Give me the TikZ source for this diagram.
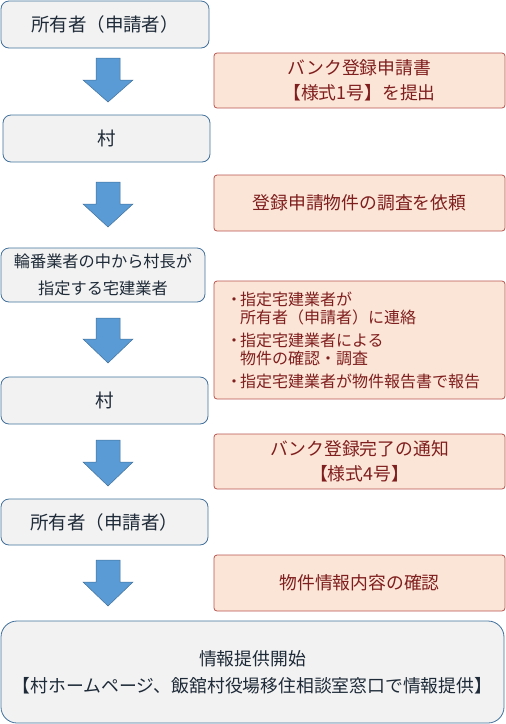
\documentclass[tikz,border=0pt]{standalone}
\usepackage{fontspec}
\setmainfont{Noto Sans CJK JP}
\definecolor{lgray}{HTML}{F2F2F2}
\definecolor{lblue}{HTML}{41719C}
\definecolor{ltext}{HTML}{1E2A38}
\definecolor{rfill}{HTML}{FBE5D6}
\definecolor{rline}{HTML}{B85450}
\definecolor{rtext}{HTML}{7F1E1E}
\definecolor{afill}{HTML}{5B9BD5}
\newcommand\bul{\makebox[12pt][c]{・}}
\newcommand\blockarrow[3]{\draw[barrow] (96,#1) -- (120,#1) -- (120,#2) -- (133,#2) -- (108,#3) -- (83,#2) -- (96,#2) -- cycle;}
\begin{document}
\begin{tikzpicture}[x=1pt,y=-1pt,
  leftbox/.style={draw=lblue, fill=lgray, rounded corners=8pt, line width=0.8pt, text=ltext, align=center, inner sep=0pt, font=\fontsize{18.5}{27}\selectfont},
  rightbox/.style={draw=rline, fill=rfill, rounded corners=3pt, line width=0.8pt, text=rtext, align=center, inner sep=0pt, minimum width=291pt, font=\fontsize{17.8}{25}\selectfont},
  barrow/.style={fill=afill, draw=lblue, line width=0.5pt}]
\useasboundingbox (0,0) rectangle (506,724);
% left column
\node[leftbox, minimum width=208pt, minimum height=47pt] (own1) at (105,24.5) {所有者（申請者）};
\node[leftbox, minimum width=207pt, minimum height=47pt] (v1) at (106.5,138.5) {村};
\node[leftbox, minimum width=204pt, minimum height=54pt, font=\fontsize{16.2}{27}\selectfont] (agent) at (103,275) {輪番業者の中から村長が\\指定する宅建業者};
\node[leftbox, minimum width=207pt, minimum height=47pt] (v2) at (104.5,400.5) {村};
\node[leftbox, minimum width=207pt, minimum height=46pt] (own2) at (104.5,522) {所有者（申請者）};
\node[leftbox, minimum width=503pt, minimum height=102pt, rounded corners=16pt, font=\fontsize{17.8}{27}\selectfont] (final) at (252.5,672) {情報提供開始\\【村ホームページ、飯舘村役場移住相談室窓口で情報提供】};
% right column
\node[rightbox, minimum height=55pt] (r1) at (359.5,80.5) {バンク登録申請書\\【様式1号】を提出};
\node[rightbox, minimum height=56pt] (r2) at (359.5,203) {登録申請物件の調査を依頼};
\node[rightbox, minimum height=118pt] (r3) at (359.5,340) {};
\node[anchor=west, align=left, inner sep=0pt, text=rtext, font=\fontsize{16}{18.5}\selectfont] (r3t) at (228,340) {\bul 指定宅建業者が\\\hspace*{12pt}所有者（申請者）に連絡\\[4pt]\bul 指定宅建業者による\\\hspace*{12pt}物件の確認・調査\\[4pt]\bul 指定宅建業者が物件報告書で報告};
\node[rightbox, minimum height=55pt] (r4) at (359.5,461.5) {バンク登録完了の通知\\【様式4号】};
\node[rightbox, minimum height=56pt] (r5) at (359.5,583) {物件情報内容の確認};
% block arrows
\blockarrow{58}{80}{102}
\blockarrow{182}{204}{227}
\blockarrow{318}{339}{363}
\blockarrow{440}{462}{486}
\blockarrow{560}{582}{606}
\end{tikzpicture}
\end{document}
